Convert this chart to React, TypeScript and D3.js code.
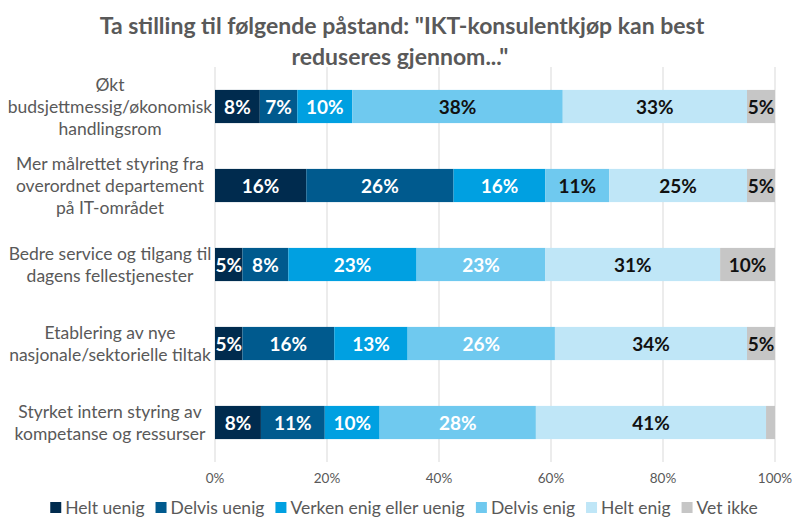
import React from "react";
import * as d3 from "d3";

const categories = [
  "Økt budsjettmessig/økonomisk handlingsrom",
  "Mer målrettet styring fra overordnet departement på IT-området",
  "Bedre service og tilgang til dagens fellestjenester",
  "Etablering av nye nasjonale/sektorielle tiltak",
  "Styrket intern styring av kompetanse og ressurser",
];
const categoryLines = [
  ["Økt", "budsjettmessig/økonomisk", "handlingsrom"],
  ["Mer målrettet styring fra", "overordnet departement", "på IT-området"],
  ["Bedre service og tilgang til", "dagens fellestjenester"],
  ["Etablering av nye", "nasjonale/sektorielle tiltak"],
  ["Styrket intern styring av", "kompetanse og ressurser"],
];
const seriesNames = ["Helt uenig", "Delvis uenig", "Verken enig eller uenig", "Delvis enig", "Helt enig", "Vet ikke"];
const heltUenig = [8.0, 16.3, 4.9, 4.9, 8.2];
const delvisUenig = [6.7, 26.3, 8.2, 16.4, 11.4];
const verken = [9.8, 16.4, 22.9, 13.1, 9.8];
const delvisEnig = [37.6, 11.4, 23.0, 26.3, 27.9];
const heltEnig = [32.9, 24.6, 31.2, 34.3, 41.1];
const vetIkke = [5.0, 5.0, 9.8, 5.0, 1.6];
const ticks = [0, 20, 40, 60, 80, 100];

const seriesValues = [heltUenig, delvisUenig, verken, delvisEnig, heltEnig, vetIkke];
const colors = ["#002B4E", "#005A8E", "#00A0E1", "#6FC9EF", "#BFE6F7", "#C6C6C6"];
const labelColors = ["#fff", "#fff", "#fff", "#fff", "#111", "#111"];
// Delvis enig labels drawn dark in the first two bars
const delvisEnigDark = [true, true, false, false, false];

const W = 800, H = 529;
const FONT = "Lato, 'Open Sans', sans-serif";

function measure(text: string, size: number): number {
  if (typeof document === "undefined") return text.length * size * 0.5;
  const c = document.createElement("canvas").getContext("2d")!;
  c.font = `${size}px Lato`;
  return c.measureText(text).width;
}

export default function App() {
  const x = d3.scaleLinear().domain([0, 100]).range([215, 775]);
  const y = d3.scaleBand<number>().domain(d3.range(categories.length)).range([67, 462]).paddingInner(0.58).paddingOuter(0.29);

  const rows = categories.map((_, i) => {
    const o: any = { i };
    seriesNames.forEach((s, k) => (o[s] = seriesValues[k][i]));
    return o;
  });
  const stacked = d3.stack<any>().keys(seriesNames)(rows);

  // legend layout
  const legendFont = 17.5;
  const itemWidths = seriesNames.map((s) => 15 + measure(s, legendFont) + 11);
  const total = d3.sum(itemWidths) - 11;
  let acc = (W - total) / 2 + 4;
  const legendX = itemWidths.map((w) => { const v = acc; acc += w; return v; });

  return (
    <svg width={W} height={H} style={{ position: "absolute", left: 0, top: 0, background: "#fff" }} fontFamily={FONT}>
      <text x={402} y={34} textAnchor="middle" fontSize={23} fontWeight="bold" fill="#595959">
        Ta stilling til følgende påstand: "IKT-konsulentkjøp kan best
      </text>
      <text x={400} y={65} textAnchor="middle" fontSize={23} fontWeight="bold" fill="#595959">
        reduseres gjennom..."
      </text>
      {ticks.map((t) => (
        <g key={t}>
          <line x1={x(t)} x2={x(t)} y1={67} y2={462} stroke="#D9D9D9" strokeWidth={1} />
          <text x={x(t)} y={483} textAnchor="middle" fontSize={13.5} fill="#595959">{t}%</text>
        </g>
      ))}
      {stacked.map((layer, k) => (
        <g key={layer.key}>
          {layer.map((d, i) => {
            const x0 = x(d[0]), x1 = x(d[1]);
            const v = d[1] - d[0];
            const yy = y(i)!;
            const bw = y.bandwidth();
            let lc = labelColors[k];
            if (k === 3 && delvisEnigDark[i]) lc = "#111";
            return (
              <g key={i}>
                <rect x={x0} y={yy} width={x1 - x0} height={bw} fill={colors[k]} />
                {v >= 3 && (
                  <text x={(x0 + x1) / 2} y={yy + bw / 2 + 7} textAnchor="middle" fontSize={19} fontWeight="bold" fill={lc}>
                    {Math.round(v)}%
                  </text>
                )}
              </g>
            );
          })}
        </g>
      ))}
      {categoryLines.map((lines, i) => {
        const cy = y(i)! + y.bandwidth() / 2;
        const lh = 22;
        const top = cy - ((lines.length - 1) * lh) / 2;
        return (
          <text key={i} textAnchor="middle" fontSize={17.5} fill="#595959">
            {lines.map((l, j) => (
              <tspan key={j} x={110} y={top + j * lh + 6}>{l}</tspan>
            ))}
          </text>
        );
      })}
      {seriesNames.map((s, k) => (
        <g key={s} transform={`translate(${legendX[k]},0)`}>
          <rect x={0} y={502} width={11} height={11} fill={colors[k]} />
          <text x={15} y={514} fontSize={legendFont} fill="#595959">{s}</text>
        </g>
      ))}
    </svg>
  );
}
